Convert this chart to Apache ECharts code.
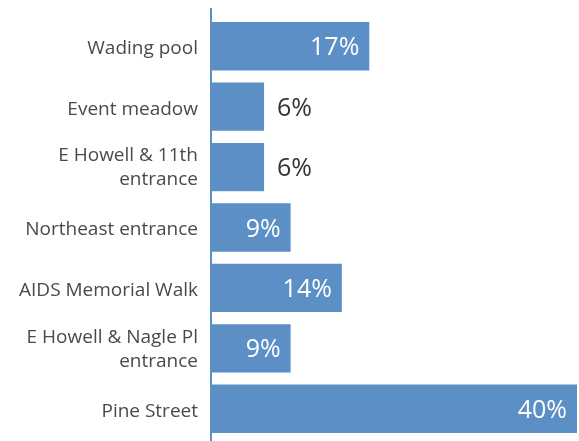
<!DOCTYPE html>
<html><head><meta charset="utf-8">
<script src="https://cdn.jsdelivr.net/npm/echarts@6/dist/echarts.min.js"></script>
<style>html,body{margin:0;padding:0;background:#fff}#c{width:579px;height:441px}</style>
</head><body><div id="c"></div>
<script>
const categories = ["Wading pool","Event meadow","E Howell & 11th\nentrance","Northeast entrance","AIDS Memorial Walk","E Howell & Nagle Pl\nentrance","Pine Street"];
const values = [17.3, 5.8, 5.8, 8.7, 14.3, 8.7, 40];
const insideThreshold = 8;

const chart = echarts.init(document.getElementById('c'));
const barColor = '#5b8fc6';
const labelFont = {fontFamily: 'Open Sans', fontSize: 19, color: '#4a4a4a', align: 'right'};
chart.setOption({
  animation: false,
  grid: {left: 211, right: 2, top: 16, bottom: 2, containLabel: false},
  xAxis: {type: 'value', min: 0, max: 40, show: false},
  yAxis: {
    type: 'category', data: categories, inverse: true,
    axisLine: {show: true, lineStyle: {color: barColor, width: 2}},
    axisTick: {show: false},
    axisLabel: {
      margin: 13, align: 'right',
      formatter: v => {
        const lines = v.split('\n');
        return lines.length > 1 ? lines.map(s => '{m|' + s + '}').join('\n') : '{s|' + v + '}';
      },
      rich: {
        s: Object.assign({lineHeight: 19, padding: [5, 0, 0, 0]}, labelFont),
        m: Object.assign({lineHeight: 24, padding: [2, 0, 0, 0]}, labelFont)
      }
    }
  },
  graphic: [{type: 'line', shape: {x1: 211, y1: 8, x2: 211, y2: 441}, style: {stroke: barColor, lineWidth: 2}, z: 10}],
  series: [{
    type: 'bar', barWidth: '80%',
    itemStyle: {color: barColor},
    data: values.map(v => ({
      value: v,
      label: v > insideThreshold
        ? {show: true, position: 'insideRight', distance: 10, offset: [0, 2], color: '#fff', fontSize: 25, fontFamily: 'Open Sans', formatter: p => Math.round(p.value) + '%'}
        : {show: true, position: 'right', distance: 13, offset: [0, 2], color: '#333', fontSize: 25, fontFamily: 'Open Sans', formatter: p => Math.round(p.value) + '%'}
    }))
  }]
});
</script></body></html>
